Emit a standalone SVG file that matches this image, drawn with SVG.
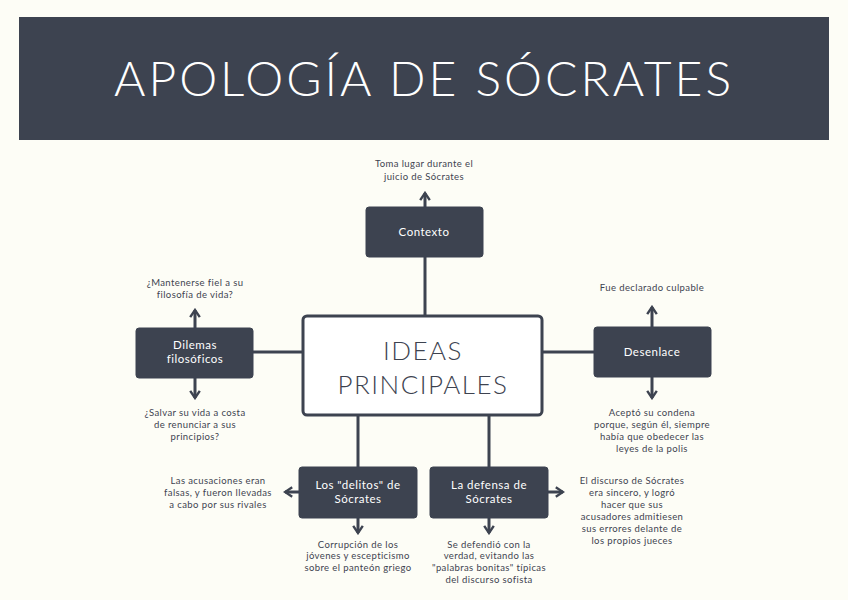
<svg xmlns="http://www.w3.org/2000/svg" width="848" height="600" viewBox="0 0 848 600">
<style>
.box{fill:#3d4350;stroke:#3d4350;}
.bt{fill:#ffffff;font-family:Lato,"Liberation Sans",sans-serif;font-size:11.5px;text-anchor:middle;letter-spacing:0.5px}
.nt{fill:#3d4350;font-family:Lato,"Liberation Sans",sans-serif;font-size:9.5px;text-anchor:middle;letter-spacing:0.4px}
.ln{stroke:#3d4350;stroke-width:3;fill:none}
</style>
<defs>
<marker id="a" viewBox="0 0 10 10" refX="8" refY="5" markerWidth="4" markerHeight="4" orient="auto" markerUnits="strokeWidth">
<path d="M2,1 L8,5 L2,9" fill="none" stroke="#3d4350" stroke-width="2"/>
</marker>
</defs>
<rect width="848" height="600" fill="#fdfdf6"/>
<g id="title">
<rect x="19" y="17" width="810" height="123" fill="#3d4350"/>
<text x="424" y="96" fill="#ffffff" font-family="Lato,'Liberation Sans',sans-serif" font-weight="300" font-size="48" text-anchor="middle" letter-spacing="3">APOLOGÍA DE SÓCRATES</text>
</g>
<g id="connectors">
<line class="ln" x1="425" y1="257" x2="425" y2="316"/>
<line class="ln" x1="253" y1="352" x2="303" y2="352"/>
<line class="ln" x1="542" y1="352" x2="594" y2="352"/>
<line class="ln" x1="358" y1="415" x2="358" y2="467"/>
<line class="ln" x1="489" y1="415" x2="489" y2="467"/>
<line class="ln" x1="425" y1="207" x2="425" y2="193" marker-end="url(#a)"/>
<line class="ln" x1="195" y1="328" x2="195" y2="310" marker-end="url(#a)"/>
<line class="ln" x1="195" y1="378" x2="195" y2="398" marker-end="url(#a)"/>
<line class="ln" x1="652" y1="327" x2="652" y2="307" marker-end="url(#a)"/>
<line class="ln" x1="652" y1="377" x2="652" y2="398" marker-end="url(#a)"/>
<line class="ln" x1="299" y1="492" x2="285" y2="492" marker-end="url(#a)"/>
<line class="ln" x1="548" y1="492" x2="563" y2="492" marker-end="url(#a)"/>
<line class="ln" x1="358" y1="518" x2="358" y2="533" marker-end="url(#a)"/>
<line class="ln" x1="489" y1="518" x2="489" y2="533" marker-end="url(#a)"/>
</g>
<g id="central">
<rect x="303" y="316" width="239" height="99" rx="4" fill="#ffffff" stroke="#3d4350" stroke-width="3"/>
<text x="423" y="360" fill="#3d4350" font-family="Lato,'Liberation Sans',sans-serif" font-weight="300" font-size="26" text-anchor="middle" letter-spacing="1.5">IDEAS</text>
<text x="423" y="394" fill="#3d4350" font-family="Lato,'Liberation Sans',sans-serif" font-weight="300" font-size="26" text-anchor="middle" letter-spacing="1.5">PRINCIPALES</text>
</g>
<g id="contexto">
<rect class="box" x="366" y="207" width="117" height="50" rx="3"/>
<text class="bt" x="424" y="236">Contexto</text>
<text class="nt" x="424" y="167">Toma lugar durante el</text>
<text class="nt" x="424" y="180">juicio de Sócrates</text>
</g>
<g id="dilemas">
<rect class="box" x="136" y="328" width="117" height="50" rx="3"/>
<text class="bt" x="195" y="349">Dilemas</text>
<text class="bt" x="195" y="363">filosóficos</text>
<text class="nt" x="195" y="286">¿Mantenerse fiel a su</text>
<text class="nt" x="195" y="298">filosofía de vida?</text>
<text class="nt" x="195" y="416">¿Salvar su vida a costa</text>
<text class="nt" x="195" y="428">de renunciar a sus</text>
<text class="nt" x="195" y="440">principios?</text>
</g>
<g id="desenlace">
<rect class="box" x="594" y="327" width="117" height="50" rx="3"/>
<text class="bt" x="652" y="356">Desenlace</text>
<text class="nt" x="652" y="291">Fue declarado culpable</text>
<text class="nt" x="652" y="416">Aceptó su condena</text>
<text class="nt" x="652" y="428">porque, según él, siempre</text>
<text class="nt" x="652" y="440">había que obedecer las</text>
<text class="nt" x="652" y="452">leyes de la polis</text>
</g>
<g id="delitos">
<rect class="box" x="299" y="467" width="118" height="51" rx="3"/>
<text class="bt" x="358" y="489">Los "delitos" de</text>
<text class="bt" x="358" y="503">Sócrates</text>
<text class="nt" x="218" y="484">Las acusaciones eran</text>
<text class="nt" x="218" y="496">falsas, y fueron llevadas</text>
<text class="nt" x="218" y="508">a cabo por sus rivales</text>
<text class="nt" x="358" y="548">Corrupción de los</text>
<text class="nt" x="358" y="559">jóvenes y escepticismo</text>
<text class="nt" x="358" y="571">sobre el panteón griego</text>
</g>
<g id="defensa">
<rect class="box" x="430" y="467" width="118" height="51" rx="3"/>
<text class="bt" x="489" y="489">La defensa de</text>
<text class="bt" x="489" y="503">Sócrates</text>
<text class="nt" x="632" y="484">El discurso de Sócrates</text>
<text class="nt" x="632" y="496">era sincero, y logró</text>
<text class="nt" x="632" y="508">hacer que sus</text>
<text class="nt" x="632" y="520">acusadores admitiesen</text>
<text class="nt" x="632" y="532">sus errores delante de</text>
<text class="nt" x="632" y="544">los propios jueces</text>
<text class="nt" x="489" y="548">Se defendió con la</text>
<text class="nt" x="489" y="559">verdad, evitando las</text>
<text class="nt" x="489" y="571">"palabras bonitas" típicas</text>
<text class="nt" x="489" y="583">del discurso sofista</text>
</g>
</svg>
